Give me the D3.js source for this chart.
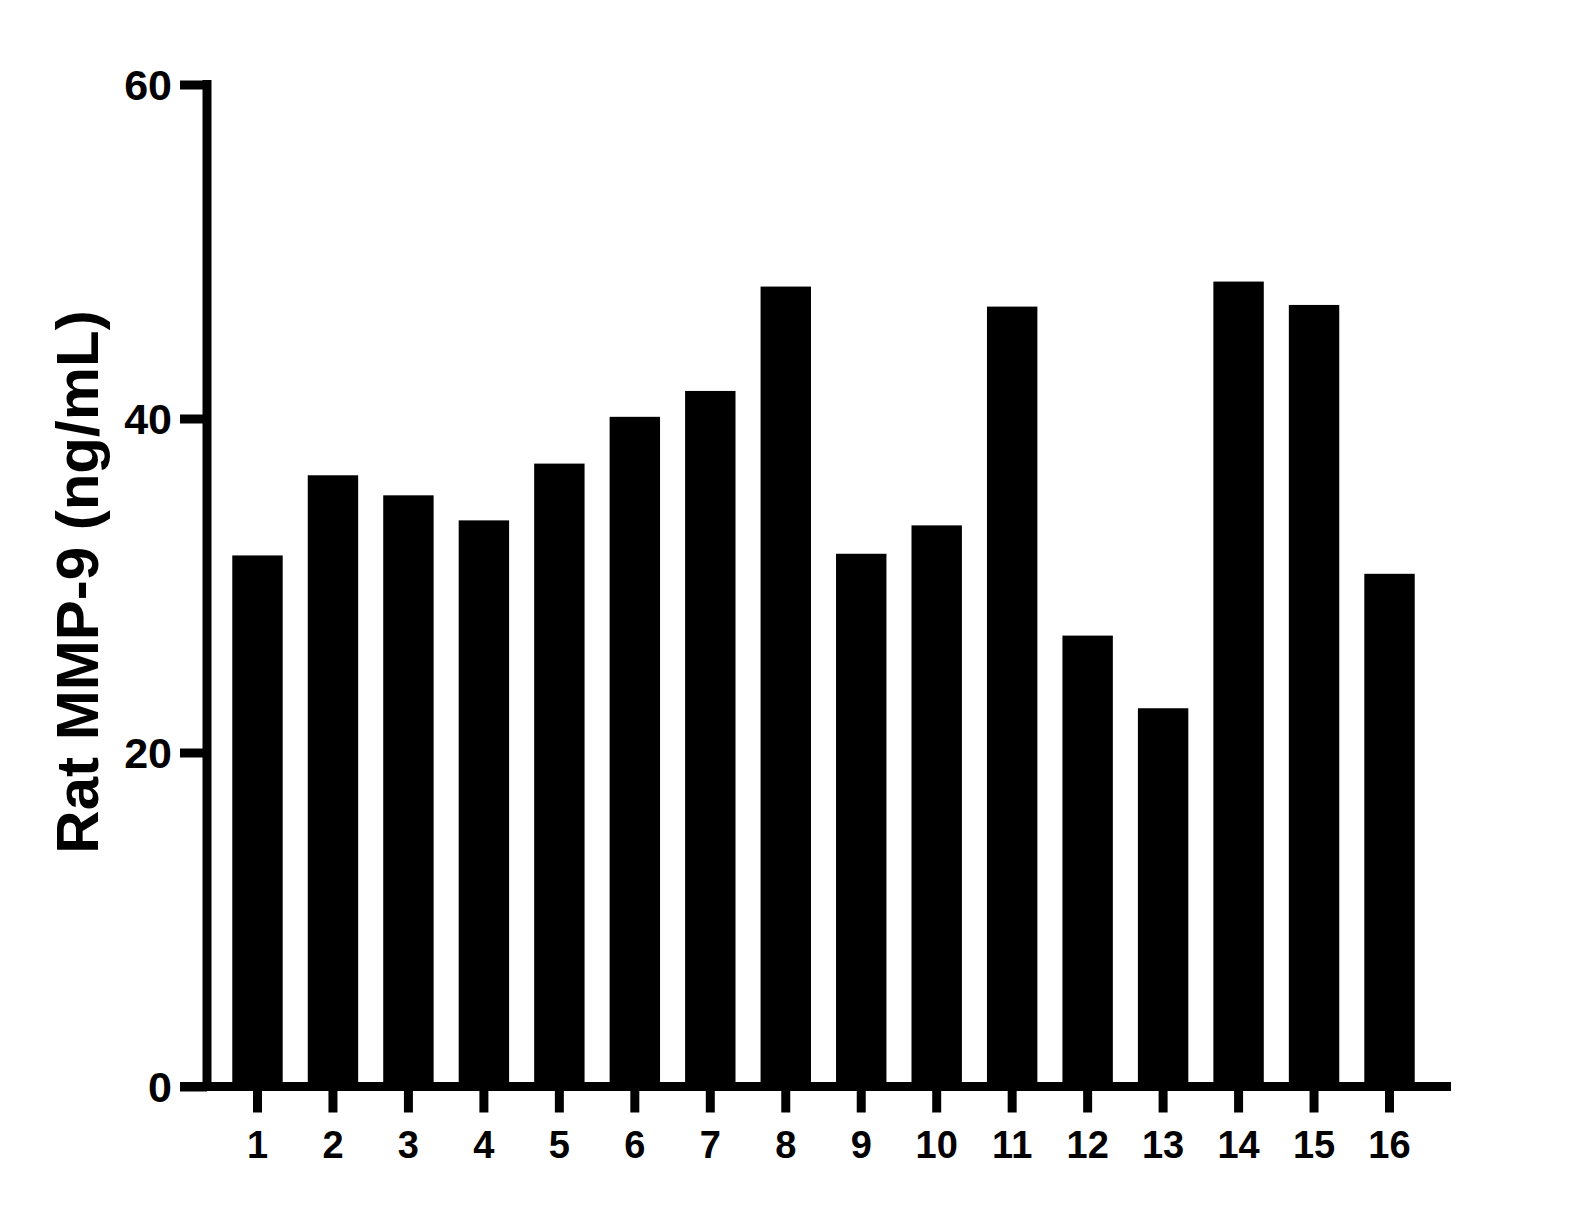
<!DOCTYPE html>
<html>
<head>
<meta charset="utf-8">
<script src="https://cdn.jsdelivr.net/npm/d3@7"></script>
<style>
  body { margin: 0; background: #ffffff; }
  svg { display: block; }
  text { font-family: Arial, "Liberation Sans", sans-serif; font-weight: bold; fill: #000; }
</style>
</head>
<body>
<div id="chart"></div>
<script>
// data
const samples = ['1', '2', '3', '4', '5', '6', '7', '8', '9', '10', '11', '12', '13', '14', '15', '16']
const mmp9 = [31.8, 36.6, 35.4, 33.9, 37.3, 40.1, 41.65, 47.9, 31.9, 33.6, 46.7, 27.0, 22.65, 48.2, 46.8, 30.7]
const yTicks = [0, 20, 40, 60]
const yTitle = 'Rat MMP-9 (ng/mL)'

const W = 1581, H = 1209

const svg = d3.select('#chart')
    .append('svg')
    .attr('width', W)
    .attr('height', H)
    .style('background-color', '#ffffff')

const x = d3.scaleBand()
    .domain(samples)
    .range([207, 1440])
    .paddingInner(0.332)
    .paddingOuter(0.335)

const y = d3.scaleLinear()
    .domain([0, 60])
    .range([1086.5, 84.5])

// bars
svg.append('g')
    .selectAll('rect')
    .data(mmp9)
    .enter()
    .append('rect')
    .attr('x', (d, i) => x(samples[i]))
    .attr('y', d => y(d))
    .attr('width', x.bandwidth())
    .attr('height', d => y(0) - y(d))
    .attr('fill', '#000')

// y axis
const yAxis = d3.axisLeft(y)
    .tickValues(yTicks)
    .tickSize(27)
    .tickSizeOuter(0)
    .tickPadding(8)
    .tickFormat(d3.format('d'))

const gy = svg.append('g')
    .attr('transform', 'translate(207,0)')
    .call(yAxis)
gy.select('.domain').remove()
gy.selectAll('.tick line').attr('stroke', '#000').attr('stroke-width', 9)
gy.selectAll('.tick text')
    .style('font-size', '43px')
    .attr('dy', '0.36em')

// y axis line, top flush with the 60 tick
svg.append('line')
    .attr('x1', 207).attr('x2', 207)
    .attr('y1', y(60) - 4.5).attr('y2', y(0))
    .attr('stroke', '#000')
    .attr('stroke-width', 9)

// x axis
const xAxis = d3.axisBottom(x)
    .tickSize(21.5)
    .tickSizeOuter(0)
    .tickPadding(18.7)

const gx = svg.append('g')
    .attr('transform', `translate(0,${y(0) + 4.5})`)
    .call(xAxis)
gx.select('.domain').remove()
gx.selectAll('.tick line').attr('stroke', '#000').attr('stroke-width', 9)
gx.selectAll('.tick text').style('font-size', '38px')

svg.append('line')
    .attr('x1', 180).attr('x2', 1451)
    .attr('y1', y(0)).attr('y2', y(0))
    .attr('stroke', '#000')
    .attr('stroke-width', 9)

// y title
svg.append('text')
    .attr('transform', 'rotate(-90)')
    .attr('x', -582)
    .attr('y', 98)
    .style('text-anchor', 'middle')
    .style('font-size', '60px')
    .text(yTitle)
</script>
</body>
</html>
